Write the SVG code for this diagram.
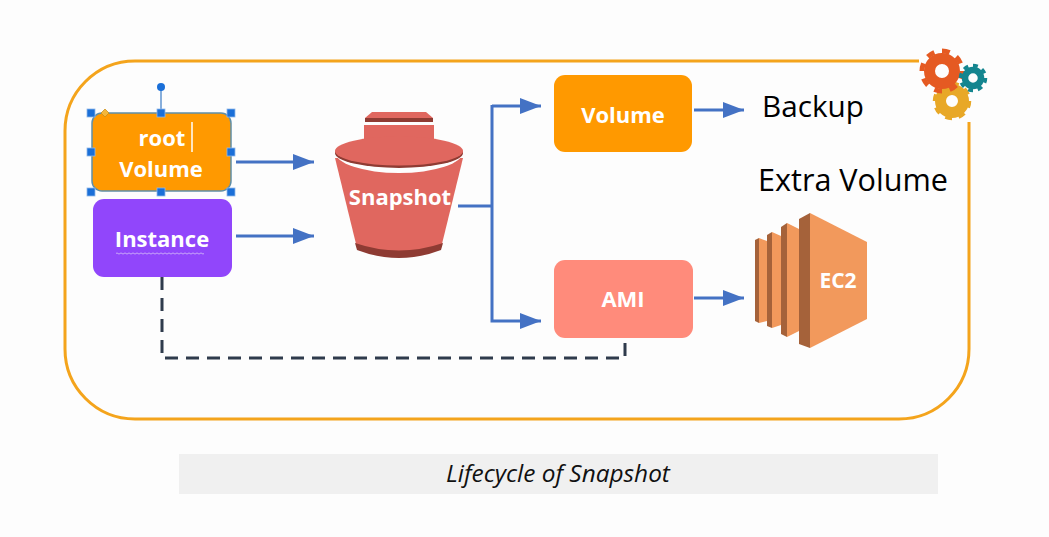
<svg xmlns="http://www.w3.org/2000/svg" width="1049" height="537" viewBox="0 0 1049 537">
<style>
.w{font-family:"Open Sans","Liberation Sans",sans-serif;font-weight:700;fill:#fff;text-anchor:middle}
.k{font-family:"Open Sans","Liberation Sans",sans-serif;fill:#000}
.c{fill:none;stroke:#4472c4;stroke-width:3}
.h{fill:#1a6fd8;stroke:#8fb8ea;stroke-width:.8}
</style>
<defs>
<marker id="a" markerUnits="userSpaceOnUse" markerWidth="22" markerHeight="18" refX="21" refY="8" orient="auto"><path d="M0 0L21 8L0 16Z" fill="#4472c4"/></marker>
</defs>
<rect width="1049" height="537" fill="#fdfdfd"/>
<path id="frame" d="M919 61H135A70 70 0 0 0 65 131V349A70 70 0 0 0 135 419H899A70 70 0 0 0 969 349V122" fill="none" stroke="#f4a41c" stroke-width="3"/>
<g id="connectors">
<path class="c" d="M236 162H314" marker-end="url(#a)"/>
<path class="c" d="M236 236H314" marker-end="url(#a)"/>
<path class="c" d="M458 206H492"/>
<path class="c" d="M492 106H541" marker-end="url(#a)"/>
<path class="c" d="M492 105V321H541" marker-end="url(#a)"/>
<path class="c" d="M694 110H744" marker-end="url(#a)"/>
<path class="c" d="M694 298H744" marker-end="url(#a)"/>
<path d="M162 277V358H625V338" fill="none" stroke="#2f3b4c" stroke-width="3" stroke-dasharray="13 8"/>
</g>
<g id="root-volume">
<rect x="92" y="113" width="139" height="78" rx="10" fill="#ff9900" stroke="#5f8fa8" stroke-width="1.500"/>
<text class="w" x="162" y="146" font-size="22">root</text>
<text class="w" x="161" y="177" font-size="22">Volume</text>
<path d="M192 122V152" stroke="#fff" stroke-width="1.500"/>
<path d="M161 87V113" stroke="#5f93cf" stroke-width="1.500"/>
<circle cx="161" cy="87" r="4" fill="#1a6fd8"/>
<g class="h">
<rect x="87" y="109" width="8" height="8"/><rect x="157" y="109" width="8" height="8"/><rect x="227" y="109" width="8" height="8"/>
<rect x="87" y="148" width="8" height="8"/><rect x="227" y="148" width="8" height="8"/>
<rect x="87" y="188" width="8" height="8"/><rect x="157" y="188" width="8" height="8"/><rect x="227" y="188" width="8" height="8"/>
</g>
<path d="M105 109L109 113L105 117L101 113Z" fill="#f4b63a" stroke="#c98a10" stroke-width=".7"/>
</g>
<g id="instance">
<rect x="93" y="199" width="139" height="78" rx="11" fill="#9146fb"/>
<text class="w" x="162" y="247" font-size="22">Instance</text>
<path d="M116 253.500q1-1.200 2 0t2 0 2 0 2 0 2 0 2 0 2 0 2 0 2 0 2 0 2 0 2 0 2 0 2 0 2 0 2 0 2 0 2 0 2 0 2 0 2 0 2 0 2 0 2 0 2 0 2 0 2 0 2 0 2 0 2 0 2 0 2 0 2 0 2 0 2 0 2 0 2 0 2 0 2 0 2 0 2 0 2 0 2 0 2 0" fill="none" stroke="#d7c0f7" stroke-width=".8"/>
</g>
<g id="snapshot">
<path d="M372 112H426L433 118H365Z" fill="#e0675f"/>
<rect x="365" y="118" width="68" height="4" fill="#8e3b33"/>
<rect x="364" y="125" width="70" height="18" fill="#e0675f"/>
<path d="M335 158H463L441 248Q399 266 357 248Z" fill="#e0675f"/>
<path d="M355 243Q399 258 443 243L441 250Q399 266 357 250Z" fill="#8e3b33"/>
<path d="M335 152A64 21 0 0 0 463 152Z" fill="#fdfdfd"/>
<ellipse cx="399" cy="153" rx="64" ry="15" fill="#8e3b33"/>
<ellipse cx="399" cy="151" rx="64" ry="14.500" fill="#e0675f"/>
<text class="w" x="400" y="205" font-size="22">Snapshot</text>
</g>
<g id="volume">
<rect x="554" y="75" width="138" height="77" rx="11" fill="#ff9900"/>
<text class="w" x="623" y="123" font-size="22">Volume</text>
</g>
<g id="backup"><text class="k" x="762" y="117" font-size="29.700">Backup</text></g>
<g id="extra-volume"><text class="k" x="758" y="191" font-size="30.600">Extra Volume</text></g>
<g id="ami">
<rect x="554" y="260" width="139" height="78" rx="11" fill="#ff8b7b"/>
<text class="w" x="623" y="307" font-size="22">AMI</text>
</g>
<g id="ec2">
<path d="M755 240L759 238V323L755 321Z" fill="#a5623a"/><path d="M759 238L767 241V321L759 323Z" fill="#f2995c"/>
<path d="M767 235L772 232V328L767 326Z" fill="#a5623a"/><path d="M772 232L781 236V325L772 328Z" fill="#f2995c"/>
<path d="M781 227L787 223V337L781 334Z" fill="#a5623a"/><path d="M787 223L799 229V331L787 337Z" fill="#f2995c"/>
<path d="M799 219L810 213V348L799 344Z" fill="#a5623a"/>
<path d="M810 213L867 242V319L810 348Z" fill="#f2995c"/>
<text class="w" x="838" y="288" font-size="21">EC2</text>
</g>
<g id="gears" fill="none">
<g stroke="#e8a827"><circle cx="952" cy="101" r="11.500" stroke-width="11"/><circle cx="952" cy="101" r="17" stroke-width="4.500" pathLength="16" stroke-dasharray="1 1"/></g>
<g stroke="#e55a22"><circle cx="942" cy="71" r="12.500" stroke-width="11"/><circle cx="942" cy="71" r="20" stroke-width="5" pathLength="16" stroke-dasharray="1 1"/></g>
<g stroke="#14858f"><circle cx="973" cy="78" r="8" stroke-width="6.500"/><circle cx="973" cy="78" r="12.500" stroke-width="3.500" pathLength="16" stroke-dasharray="1 1"/></g>
</g>
<g id="caption">
<rect x="179" y="454" width="759" height="40" fill="#f0f0f0"/>
<text x="558" y="482" font-family="Open Sans,Liberation Sans,sans-serif" font-style="italic" font-size="24.400" text-anchor="middle" fill="#111">Lifecycle of Snapshot</text>
</g>
</svg>
